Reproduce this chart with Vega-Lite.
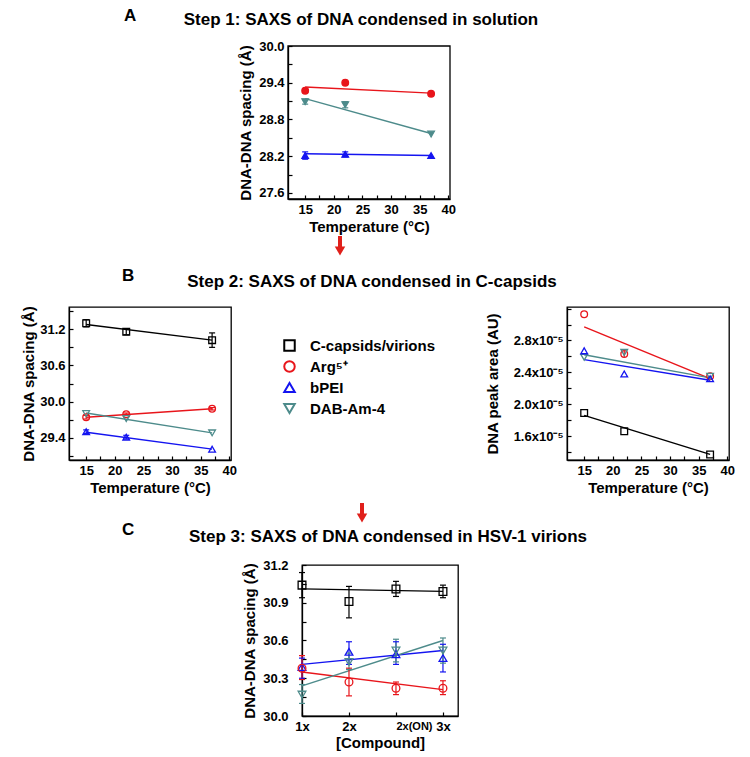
{
  "$schema": "https://vega.github.io/schema/vega-lite/v6.json",
  "background": "white",
  "padding": 0,
  "columns": 7,
  "spacing": 0,
  "bounds": "flush",
  "datasets": {
    "pts": [
      {"panel": "A", "series": "Arg5+", "T": 15, "y": 29.27, "lo": 29.24, "hi": 29.30},
      {"panel": "A", "series": "Arg5+", "T": 22, "y": 29.40},
      {"panel": "A", "series": "Arg5+", "T": 37, "y": 29.22},
      {"panel": "A", "series": "DAB-Am-4", "T": 15, "y": 29.09, "lo": 29.05, "hi": 29.13},
      {"panel": "A", "series": "DAB-Am-4", "T": 22, "y": 29.04, "lo": 28.99, "hi": 29.09},
      {"panel": "A", "series": "DAB-Am-4", "T": 37, "y": 28.56},
      {"panel": "A", "series": "bPEI", "T": 15, "y": 28.21, "lo": 28.15, "hi": 28.27},
      {"panel": "A", "series": "bPEI", "T": 22, "y": 28.23, "lo": 28.19, "hi": 28.27},
      {"panel": "A", "series": "bPEI", "T": 37, "y": 28.21},
      {"panel": "BL", "series": "C-capsids/virions", "T": 15, "y": 31.30, "lo": 31.24, "hi": 31.36},
      {"panel": "BL", "series": "C-capsids/virions", "T": 22, "y": 31.16, "lo": 31.11, "hi": 31.21},
      {"panel": "BL", "series": "C-capsids/virions", "T": 37, "y": 31.02, "lo": 30.90, "hi": 31.14},
      {"panel": "BL", "series": "Arg5+", "T": 15, "y": 29.74, "lo": 29.71, "hi": 29.77},
      {"panel": "BL", "series": "Arg5+", "T": 22, "y": 29.79, "lo": 29.77, "hi": 29.81},
      {"panel": "BL", "series": "Arg5+", "T": 37, "y": 29.88, "lo": 29.86, "hi": 29.90},
      {"panel": "BL", "series": "DAB-Am-4", "T": 15, "y": 29.80},
      {"panel": "BL", "series": "DAB-Am-4", "T": 22, "y": 29.72},
      {"panel": "BL", "series": "DAB-Am-4", "T": 37, "y": 29.48},
      {"panel": "BL", "series": "bPEI", "T": 15, "y": 29.50, "lo": 29.47, "hi": 29.53},
      {"panel": "BL", "series": "bPEI", "T": 22, "y": 29.41, "lo": 29.38, "hi": 29.44},
      {"panel": "BL", "series": "bPEI", "T": 37, "y": 29.21},
      {"panel": "BR", "series": "Arg5+", "T": 15, "y": 3.13e-5},
      {"panel": "BR", "series": "Arg5+", "T": 22, "y": 2.63e-5, "lo": 2.59e-5, "hi": 2.67e-5},
      {"panel": "BR", "series": "Arg5+", "T": 37, "y": 2.35e-5},
      {"panel": "BR", "series": "DAB-Am-4", "T": 15, "y": 2.59e-5},
      {"panel": "BR", "series": "DAB-Am-4", "T": 22, "y": 2.65e-5},
      {"panel": "BR", "series": "DAB-Am-4", "T": 37, "y": 2.35e-5},
      {"panel": "BR", "series": "bPEI", "T": 15, "y": 2.67e-5},
      {"panel": "BR", "series": "bPEI", "T": 22, "y": 2.38e-5},
      {"panel": "BR", "series": "bPEI", "T": 37, "y": 2.32e-5},
      {"panel": "BR", "series": "C-capsids/virions", "T": 15, "y": 1.89e-5},
      {"panel": "BR", "series": "C-capsids/virions", "T": 22, "y": 1.66e-5},
      {"panel": "BR", "series": "C-capsids/virions", "T": 37, "y": 1.37e-5},
      {"panel": "C", "series": "C-capsids/virions", "compound": "1x", "y": 31.04, "lo": 30.94, "hi": 31.14},
      {"panel": "C", "series": "C-capsids/virions", "compound": "2x", "y": 30.91, "lo": 30.78, "hi": 31.03},
      {"panel": "C", "series": "C-capsids/virions", "compound": "2x(ON)", "y": 31.01, "lo": 30.95, "hi": 31.07},
      {"panel": "C", "series": "C-capsids/virions", "compound": "3x", "y": 30.99, "lo": 30.94, "hi": 31.04},
      {"panel": "C", "series": "bPEI", "compound": "1x", "y": 30.39, "lo": 30.30, "hi": 30.46},
      {"panel": "C", "series": "bPEI", "compound": "2x", "y": 30.51, "lo": 30.41, "hi": 30.59},
      {"panel": "C", "series": "bPEI", "compound": "2x(ON)", "y": 30.49, "lo": 30.41, "hi": 30.59},
      {"panel": "C", "series": "bPEI", "compound": "3x", "y": 30.46, "lo": 30.35, "hi": 30.57},
      {"panel": "C", "series": "Arg5+", "compound": "1x", "y": 30.38, "lo": 30.29, "hi": 30.48},
      {"panel": "C", "series": "Arg5+", "compound": "2x", "y": 30.27, "lo": 30.16, "hi": 30.38},
      {"panel": "C", "series": "Arg5+", "compound": "2x(ON)", "y": 30.22, "lo": 30.17, "hi": 30.27},
      {"panel": "C", "series": "Arg5+", "compound": "3x", "y": 30.22, "lo": 30.17, "hi": 30.28},
      {"panel": "C", "series": "DAB-Am-4", "compound": "1x", "y": 30.17, "lo": 30.10, "hi": 30.25},
      {"panel": "C", "series": "DAB-Am-4", "compound": "2x", "y": 30.43, "lo": 30.37, "hi": 30.50},
      {"panel": "C", "series": "DAB-Am-4", "compound": "2x(ON)", "y": 30.52, "lo": 30.43, "hi": 30.61},
      {"panel": "C", "series": "DAB-Am-4", "compound": "3x", "y": 30.52, "lo": 30.42, "hi": 30.62}
    ],
    "fits": [
      {"panel": "A", "series": "Arg5+", "T": 15, "y": 29.33},
      {"panel": "A", "series": "Arg5+", "T": 37, "y": 29.23},
      {"panel": "A", "series": "DAB-Am-4", "T": 15, "y": 29.14},
      {"panel": "A", "series": "DAB-Am-4", "T": 37, "y": 28.57},
      {"panel": "A", "series": "bPEI", "T": 15, "y": 28.24},
      {"panel": "A", "series": "bPEI", "T": 37, "y": 28.21},
      {"panel": "BL", "series": "C-capsids/virions", "T": 15, "y": 31.28},
      {"panel": "BL", "series": "C-capsids/virions", "T": 37, "y": 31.02},
      {"panel": "BL", "series": "Arg5+", "T": 15, "y": 29.74},
      {"panel": "BL", "series": "Arg5+", "T": 37, "y": 29.88},
      {"panel": "BL", "series": "DAB-Am-4", "T": 15, "y": 29.81},
      {"panel": "BL", "series": "DAB-Am-4", "T": 37, "y": 29.48},
      {"panel": "BL", "series": "bPEI", "T": 15, "y": 29.49},
      {"panel": "BL", "series": "bPEI", "T": 37, "y": 29.21},
      {"panel": "BR", "series": "Arg5+", "T": 15, "y": 2.97e-5},
      {"panel": "BR", "series": "Arg5+", "T": 37, "y": 2.32e-5},
      {"panel": "BR", "series": "DAB-Am-4", "T": 15, "y": 2.62e-5},
      {"panel": "BR", "series": "DAB-Am-4", "T": 37, "y": 2.33e-5},
      {"panel": "BR", "series": "bPEI", "T": 15, "y": 2.56e-5},
      {"panel": "BR", "series": "bPEI", "T": 37, "y": 2.30e-5},
      {"panel": "BR", "series": "C-capsids/virions", "T": 15, "y": 1.86e-5},
      {"panel": "BR", "series": "C-capsids/virions", "T": 37, "y": 1.37e-5},
      {"panel": "C", "series": "C-capsids/virions", "compound": "1x", "y": 31.01},
      {"panel": "C", "series": "C-capsids/virions", "compound": "3x", "y": 30.99},
      {"panel": "C", "series": "bPEI", "compound": "1x", "y": 30.41},
      {"panel": "C", "series": "bPEI", "compound": "3x", "y": 30.52},
      {"panel": "C", "series": "Arg5+", "compound": "1x", "y": 30.35},
      {"panel": "C", "series": "Arg5+", "compound": "3x", "y": 30.21},
      {"panel": "C", "series": "DAB-Am-4", "compound": "1x", "y": 30.24},
      {"panel": "C", "series": "DAB-Am-4", "compound": "3x", "y": 30.60}
    ],
    "frameA": [
      {"T0": 12, "T1": 40.3, "y0": 27.5, "y1": 30.0}
    ],
    "arrows": [
      {"which": 1, "pos": 38, "top": 37, "shaftEnd": 50, "head": 52},
      {"which": 2, "pos": 60, "top": 43, "shaftEnd": 56, "head": 58}
    ]
  },
  "config": {
    "view": {"stroke": null},
    "font": "Liberation Sans",
    "title": {"font": "Liberation Sans", "fontSize": 17, "fontWeight": "bold", "color": "black"},
    "axis": {"domainColor": "black", "domainWidth": 1.3, "tickColor": "black", "tickWidth": 1.2, "tickSize": -4, "tickCount": 40, "labelPadding": 8, "labelFont": "Liberation Sans", "labelFontSize": 13, "labelFontWeight": "bold", "labelColor": "black", "titleFont": "Liberation Sans", "titleFontSize": 15, "titleFontWeight": "bold", "titleColor": "black", "grid": false, "labelFlush": false, "labelOverlap": false, "labelBound": false}
  },
  "concat": [
    {"width": 1, "height": 46, "data": {"values": []}, "mark": "point"},
    {"width": 1, "height": 1, "data": {"values": []}, "mark": "point"},
    {"width": 1, "height": 1, "data": {"values": []}, "mark": "point"},
    {"width": 1, "height": 1, "data": {"values": []}, "mark": "point"},
    {"width": 1, "height": 1, "data": {"values": []}, "mark": "point"},
    {"width": 1, "height": 1, "data": {"values": []}, "mark": "point"},
    {"width": 1, "height": 1, "data": {"values": []}, "mark": "point"},

    {"width": 69, "height": 153, "data": {"values": []}, "mark": "point",
     "title": {"text": "A", "anchor": "start", "frame": "group", "dx": 124, "offset": 21}},
    {"width": 1, "height": 1, "data": {"values": []}, "mark": "point"},
    {"width": 1, "height": 1, "data": {"values": []}, "mark": "point"},
    {
      "width": 14, "height": 153,
      "title": {"text": "Step 1: SAXS of DNA condensed in solution", "anchor": "middle", "frame": "group", "dx": 66, "offset": 11},
      "layer": [
        {"data": {"name": "frameA"},
         "mark": {"type": "rect", "fill": "transparent", "stroke": "black", "strokeWidth": 1.3},
         "encoding": {
           "x": {"field": "T0", "type": "quantitative", "scale": {"domain": [12, 40.3], "range": [0, 162], "nice": false, "zero": false},
                 "axis": {"title": "Temperature (°C)", "values": [15, 17.5, 20, 22.5, 25, 27.5, 30, 32.5, 35, 37.5, 40], "tickCount": 40, "labelExpr": "datum.value % 5 == 0 ? format(datum.value, 'd') : ''", "labelOverlap": false, "titlePadding": 3}},
           "x2": {"field": "T1"},
           "y": {"field": "y0", "type": "quantitative", "scale": {"domain": [27.5, 30.0], "nice": false, "zero": false},
                 "axis": {"title": "DNA-DNA spacing (Å)", "values": [27.6, 27.9, 28.2, 28.5, 28.8, 29.1, 29.4, 29.7, 30.0], "tickCount": 40, "labelExpr": "indexof(['27.6','28.2','28.8','29.4','30.0'], format(datum.value,'.1f')) >= 0 ? format(datum.value,'.1f') : ''", "labelOverlap": false, "titlePadding": 5}},
           "y2": {"field": "y1"}
         }},
        {"data": {"name": "fits"}, "transform": [{"filter": "datum.panel == 'A'"}],
         "mark": {"type": "line", "strokeWidth": 1.4},
         "encoding": {
           "x": {"field": "T", "type": "quantitative"},
           "y": {"field": "y", "type": "quantitative"},
           "color": {"field": "series", "type": "nominal", "scale": {"domain": ["C-capsids/virions", "Arg5+", "bPEI", "DAB-Am-4"], "range": ["#000000", "#e8151b", "#1414f0", "#4d8b8b"]},
                     "legend": {"orient": "none", "legendX": 282, "legendY": 338, "title": null, "symbolSize": 110, "symbolStrokeWidth": 2, "symbolFillColor": "transparent", "labelFont": "Liberation Sans", "labelFontSize": 15, "labelFontWeight": "bold", "labelColor": "black", "labelOffset": 13, "rowPadding": 2, "padding": 0, "labelExpr": "datum.label == 'Arg5+' ? 'Arg⁵⁺' : datum.label"}}
         }},
        {"data": {"name": "pts"}, "transform": [{"filter": "datum.panel == 'A' && isValid(datum.lo)"}],
         "mark": {"type": "rule", "strokeWidth": 1.2},
         "encoding": {
           "x": {"field": "T", "type": "quantitative"},
           "y": {"field": "lo", "type": "quantitative"},
           "y2": {"field": "hi"},
           "color": {"field": "series", "type": "nominal", "legend": {"orient": "none", "legendX": 282, "legendY": 338, "title": null, "symbolSize": 110, "symbolStrokeWidth": 2, "symbolFillColor": "transparent", "labelFont": "Liberation Sans", "labelFontSize": 15, "labelFontWeight": "bold", "labelColor": "black", "labelOffset": 13, "rowPadding": 2, "padding": 0, "labelExpr": "datum.label == 'Arg5+' ? 'Arg⁵⁺' : datum.label"}}
         }},
        {"data": {"name": "pts"}, "transform": [{"filter": "datum.panel == 'A' && isValid(datum.lo)"}, {"fold": ["lo", "hi"], "as": ["end", "val"]}],
         "mark": {"type": "rule", "strokeWidth": 1.2, "xOffset": -3, "x2Offset": 3},
         "encoding": {
           "x": {"field": "T", "type": "quantitative"},
           "x2": {"field": "T"},
           "y": {"field": "val", "type": "quantitative"},
           "color": {"field": "series", "type": "nominal", "legend": {"orient": "none", "legendX": 282, "legendY": 338, "title": null, "symbolSize": 110, "symbolStrokeWidth": 2, "symbolFillColor": "transparent", "labelFont": "Liberation Sans", "labelFontSize": 15, "labelFontWeight": "bold", "labelColor": "black", "labelOffset": 13, "rowPadding": 2, "padding": 0, "labelExpr": "datum.label == 'Arg5+' ? 'Arg⁵⁺' : datum.label"}}
         }},
        {"data": {"name": "pts"}, "transform": [{"filter": "datum.panel == 'A'"}],
         "mark": {"type": "point", "filled": false, "size": 45, "strokeWidth": 1.2, "opacity": 1},
         "encoding": {
           "x": {"field": "T", "type": "quantitative"},
           "y": {"field": "y", "type": "quantitative"},
           "color": {"field": "series", "type": "nominal", "legend": {"orient": "none", "legendX": 282, "legendY": 338, "title": null, "symbolSize": 110, "symbolStrokeWidth": 2, "symbolFillColor": "transparent", "labelFont": "Liberation Sans", "labelFontSize": 15, "labelFontWeight": "bold", "labelColor": "black", "labelOffset": 13, "rowPadding": 2, "padding": 0, "labelExpr": "datum.label == 'Arg5+' ? 'Arg⁵⁺' : datum.label"}},
           "shape": {"field": "series", "type": "nominal", "scale": {"domain": ["C-capsids/virions", "Arg5+", "bPEI", "DAB-Am-4"], "range": ["square", "circle", "triangle-up", "triangle-down"]}, "legend": {"orient": "none", "legendX": 282, "legendY": 338, "title": null, "symbolSize": 110, "symbolStrokeWidth": 2, "symbolFillColor": "transparent", "labelFont": "Liberation Sans", "labelFontSize": 15, "labelFontWeight": "bold", "labelColor": "black", "labelOffset": 13, "rowPadding": 2, "padding": 0, "labelExpr": "datum.label == 'Arg5+' ? 'Arg⁵⁺' : datum.label"}},
           "fill": {"field": "series", "type": "nominal", "scale": {"domain": ["Arg5+", "bPEI", "DAB-Am-4"], "range": ["#e8151b", "#1414f0", "#4d8b8b"]}, "legend": null}
         }}
      ]
    },
    {"width": 1, "height": 1, "data": {"values": []}, "mark": "point"},
    {"width": 1, "height": 1, "data": {"values": []}, "mark": "point"},
    {"width": 1, "height": 1, "data": {"values": []}, "mark": "point"},

    {"width": 1, "height": 108, "data": {"values": []}, "mark": "point"},
    {"width": 1, "height": 1, "data": {"values": []}, "mark": "point"},
    {"width": 1, "height": 1, "data": {"values": []}, "mark": "point"},
    {"width": 1, "height": 1, "data": {"values": []}, "mark": "point"},
    {
      "width": 64, "height": 108,
      "data": {"name": "arrows"},
      "transform": [{"filter": "datum.which == 1"}],
      "layer": [
        {"mark": {"type": "rule", "color": "#e0201b", "strokeWidth": 4, "strokeCap": "butt"},
         "encoding": {
           "x": {"field": "pos", "type": "quantitative", "scale": {"domain": [0, 64], "nice": false, "zero": false}, "axis": null},
           "y": {"field": "top", "type": "quantitative", "scale": {"domain": [0, 108], "reverse": true, "nice": false, "zero": false}, "axis": null},
           "y2": {"field": "shaftEnd"}
         }},
        {"mark": {"type": "point", "shape": "triangle-down", "filled": true, "color": "#e0201b", "size": 110, "opacity": 1},
         "encoding": {
           "x": {"field": "pos", "type": "quantitative"},
           "y": {"field": "head", "type": "quantitative"}
         }}
      ]
    },
    {"width": 1, "height": 1, "data": {"values": []}, "mark": "point"},
    {"width": 1, "height": 1, "data": {"values": []}, "mark": "point"},

    {"width": 69, "height": 153, "data": {"values": []}, "mark": "point",
     "title": {"text": "B", "anchor": "start", "frame": "group", "dx": 122, "offset": 22}},
    {
      "width": 162, "height": 153,
      "view": {"stroke": "black", "strokeWidth": 1.3},
      "layer": [
        {"data": {"name": "fits"}, "transform": [{"filter": "datum.panel == 'BL'"}],
         "mark": {"type": "line", "strokeWidth": 1.4},
         "encoding": {
           "x": {"field": "T", "type": "quantitative", "scale": {"domain": [12, 40.3], "nice": false, "zero": false},
                 "axis": {"title": "Temperature (°C)", "values": [15, 17.5, 20, 22.5, 25, 27.5, 30, 32.5, 35, 37.5, 40], "tickCount": 40, "labelExpr": "datum.value % 5 == 0 ? format(datum.value, 'd') : ''", "labelOverlap": false, "titlePadding": 3}},
           "y": {"field": "y", "type": "quantitative", "scale": {"domain": [29.03, 31.57], "nice": false, "zero": false},
                 "axis": {"title": "DNA-DNA spacing (Å)", "values": [29.1, 29.4, 29.7, 30.0, 30.3, 30.6, 30.9, 31.2, 31.5], "tickCount": 40, "labelExpr": "indexof(['29.4','30.0','30.6','31.2'], format(datum.value,'.1f')) >= 0 ? format(datum.value,'.1f') : ''", "labelOverlap": false, "titlePadding": 3}},
           "color": {"field": "series", "type": "nominal", "legend": {"orient": "none", "legendX": 282, "legendY": 338, "title": null, "symbolSize": 110, "symbolStrokeWidth": 2, "symbolFillColor": "transparent", "labelFont": "Liberation Sans", "labelFontSize": 15, "labelFontWeight": "bold", "labelColor": "black", "labelOffset": 13, "rowPadding": 2, "padding": 0, "labelExpr": "datum.label == 'Arg5+' ? 'Arg⁵⁺' : datum.label"}}
         }},
        {"data": {"name": "pts"}, "transform": [{"filter": "datum.panel == 'BL' && isValid(datum.lo)"}],
         "mark": {"type": "rule", "strokeWidth": 1.2},
         "encoding": {
           "x": {"field": "T", "type": "quantitative"},
           "y": {"field": "lo", "type": "quantitative"},
           "y2": {"field": "hi"},
           "color": {"field": "series", "type": "nominal", "legend": {"orient": "none", "legendX": 282, "legendY": 338, "title": null, "symbolSize": 110, "symbolStrokeWidth": 2, "symbolFillColor": "transparent", "labelFont": "Liberation Sans", "labelFontSize": 15, "labelFontWeight": "bold", "labelColor": "black", "labelOffset": 13, "rowPadding": 2, "padding": 0, "labelExpr": "datum.label == 'Arg5+' ? 'Arg⁵⁺' : datum.label"}}
         }},
        {"data": {"name": "pts"}, "transform": [{"filter": "datum.panel == 'BL' && isValid(datum.lo)"}, {"fold": ["lo", "hi"], "as": ["end", "val"]}],
         "mark": {"type": "rule", "strokeWidth": 1.2, "xOffset": -3, "x2Offset": 3},
         "encoding": {
           "x": {"field": "T", "type": "quantitative"},
           "x2": {"field": "T"},
           "y": {"field": "val", "type": "quantitative"},
           "color": {"field": "series", "type": "nominal", "legend": {"orient": "none", "legendX": 282, "legendY": 338, "title": null, "symbolSize": 110, "symbolStrokeWidth": 2, "symbolFillColor": "transparent", "labelFont": "Liberation Sans", "labelFontSize": 15, "labelFontWeight": "bold", "labelColor": "black", "labelOffset": 13, "rowPadding": 2, "padding": 0, "labelExpr": "datum.label == 'Arg5+' ? 'Arg⁵⁺' : datum.label"}}
         }},
        {"data": {"name": "pts"}, "transform": [{"filter": "datum.panel == 'BL'"}],
         "mark": {"type": "point", "filled": false, "size": 45, "strokeWidth": 1.3, "opacity": 1},
         "encoding": {
           "x": {"field": "T", "type": "quantitative"},
           "y": {"field": "y", "type": "quantitative"},
           "color": {"field": "series", "type": "nominal", "legend": {"orient": "none", "legendX": 282, "legendY": 338, "title": null, "symbolSize": 110, "symbolStrokeWidth": 2, "symbolFillColor": "transparent", "labelFont": "Liberation Sans", "labelFontSize": 15, "labelFontWeight": "bold", "labelColor": "black", "labelOffset": 13, "rowPadding": 2, "padding": 0, "labelExpr": "datum.label == 'Arg5+' ? 'Arg⁵⁺' : datum.label"}},
           "shape": {"field": "series", "type": "nominal", "legend": {"orient": "none", "legendX": 282, "legendY": 338, "title": null, "symbolSize": 110, "symbolStrokeWidth": 2, "symbolFillColor": "transparent", "labelFont": "Liberation Sans", "labelFontSize": 15, "labelFontWeight": "bold", "labelColor": "black", "labelOffset": 13, "rowPadding": 2, "padding": 0, "labelExpr": "datum.label == 'Arg5+' ? 'Arg⁵⁺' : datum.label"}}
         }}
      ]
    },
    {"width": 57, "height": 1, "data": {"values": []}, "mark": "point"},
    {"width": 14, "height": 1, "data": {"values": []}, "mark": "point"},
    {"width": 156, "height": 153, "data": {"values": []}, "mark": "point",
     "title": {"text": "Step 2: SAXS of DNA condensed in C-capsids", "anchor": "middle", "frame": "group", "dx": -8, "offset": 16}},
    {"width": 109, "height": 1, "data": {"values": []}, "mark": "point"},
    {
      "width": 162, "height": 153,
      "view": {"stroke": "black", "strokeWidth": 1.3},
      "layer": [
        {"data": {"name": "fits"}, "transform": [{"filter": "datum.panel == 'BR'"}],
         "mark": {"type": "line", "strokeWidth": 1.4},
         "encoding": {
           "x": {"field": "T", "type": "quantitative", "scale": {"domain": [12, 40.3], "nice": false, "zero": false},
                 "axis": {"title": "Temperature (°C)", "values": [15, 17.5, 20, 22.5, 25, 27.5, 30, 32.5, 35, 37.5, 40], "tickCount": 40, "labelExpr": "datum.value % 5 == 0 ? format(datum.value, 'd') : ''", "labelOverlap": false, "titlePadding": 3}},
           "y": {"field": "y", "type": "quantitative", "scale": {"domain": [1.3e-5, 3.22e-5], "nice": false, "zero": false},
                 "axis": {"title": "DNA peak area (AU)", "values": [1.4e-5, 1.6e-5, 1.8e-5, 2.0e-5, 2.2e-5, 2.4e-5, 2.6e-5, 2.8e-5, 3.0e-5, 3.2e-5], "tickCount": 40, "labelExpr": "indexof(['1.6','2.0','2.4','2.8'], format(datum.value*100000,'.1f')) >= 0 ? format(datum.value*100000,'.1f') + 'x10⁻⁵' : ''", "labelOverlap": false, "titlePadding": 13}},
           "color": {"field": "series", "type": "nominal", "legend": {"orient": "none", "legendX": 282, "legendY": 338, "title": null, "symbolSize": 110, "symbolStrokeWidth": 2, "symbolFillColor": "transparent", "labelFont": "Liberation Sans", "labelFontSize": 15, "labelFontWeight": "bold", "labelColor": "black", "labelOffset": 13, "rowPadding": 2, "padding": 0, "labelExpr": "datum.label == 'Arg5+' ? 'Arg⁵⁺' : datum.label"}}
         }},
        {"data": {"name": "pts"}, "transform": [{"filter": "datum.panel == 'BR' && isValid(datum.lo)"}],
         "mark": {"type": "rule", "strokeWidth": 1.2},
         "encoding": {
           "x": {"field": "T", "type": "quantitative"},
           "y": {"field": "lo", "type": "quantitative"},
           "y2": {"field": "hi"},
           "color": {"field": "series", "type": "nominal", "legend": {"orient": "none", "legendX": 282, "legendY": 338, "title": null, "symbolSize": 110, "symbolStrokeWidth": 2, "symbolFillColor": "transparent", "labelFont": "Liberation Sans", "labelFontSize": 15, "labelFontWeight": "bold", "labelColor": "black", "labelOffset": 13, "rowPadding": 2, "padding": 0, "labelExpr": "datum.label == 'Arg5+' ? 'Arg⁵⁺' : datum.label"}}
         }},
        {"data": {"name": "pts"}, "transform": [{"filter": "datum.panel == 'BR'"}],
         "mark": {"type": "point", "filled": false, "size": 45, "strokeWidth": 1.3, "opacity": 1},
         "encoding": {
           "x": {"field": "T", "type": "quantitative"},
           "y": {"field": "y", "type": "quantitative"},
           "color": {"field": "series", "type": "nominal", "legend": {"orient": "none", "legendX": 282, "legendY": 338, "title": null, "symbolSize": 110, "symbolStrokeWidth": 2, "symbolFillColor": "transparent", "labelFont": "Liberation Sans", "labelFontSize": 15, "labelFontWeight": "bold", "labelColor": "black", "labelOffset": 13, "rowPadding": 2, "padding": 0, "labelExpr": "datum.label == 'Arg5+' ? 'Arg⁵⁺' : datum.label"}},
           "shape": {"field": "series", "type": "nominal", "legend": {"orient": "none", "legendX": 282, "legendY": 338, "title": null, "symbolSize": 110, "symbolStrokeWidth": 2, "symbolFillColor": "transparent", "labelFont": "Liberation Sans", "labelFontSize": 15, "labelFontWeight": "bold", "labelColor": "black", "labelOffset": 13, "rowPadding": 2, "padding": 0, "labelExpr": "datum.label == 'Arg5+' ? 'Arg⁵⁺' : datum.label"}}
         }}
      ]
    },

    {"width": 1, "height": 105, "data": {"values": []}, "mark": "point"},
    {"width": 1, "height": 1, "data": {"values": []}, "mark": "point"},
    {"width": 1, "height": 1, "data": {"values": []}, "mark": "point"},
    {"width": 1, "height": 1, "data": {"values": []}, "mark": "point"},
    {
      "width": 64, "height": 105,
      "data": {"name": "arrows"},
      "transform": [{"filter": "datum.which == 2"}],
      "layer": [
        {"mark": {"type": "rule", "color": "#e0201b", "strokeWidth": 4, "strokeCap": "butt"},
         "encoding": {
           "x": {"field": "pos", "type": "quantitative", "scale": {"domain": [0, 64], "nice": false, "zero": false}, "axis": null},
           "y": {"field": "top", "type": "quantitative", "scale": {"domain": [0, 105], "reverse": true, "nice": false, "zero": false}, "axis": null},
           "y2": {"field": "shaftEnd"}
         }},
        {"mark": {"type": "point", "shape": "triangle-down", "filled": true, "color": "#e0201b", "size": 110, "opacity": 1},
         "encoding": {
           "x": {"field": "pos", "type": "quantitative"},
           "y": {"field": "head", "type": "quantitative"}
         }}
      ]
    },
    {"width": 1, "height": 1, "data": {"values": []}, "mark": "point"},
    {"width": 1, "height": 1, "data": {"values": []}, "mark": "point"},

    {"width": 69, "height": 151, "data": {"values": []}, "mark": "point",
     "title": {"text": "C", "anchor": "start", "frame": "group", "dx": 122, "offset": 26}},
    {"width": 1, "height": 1, "data": {"values": []}, "mark": "point"},
    {"width": 1, "height": 1, "data": {"values": []}, "mark": "point"},
    {"width": 1, "height": 1, "data": {"values": []}, "mark": "point"},
    {
      "width": 156, "height": 151,
      "view": {"stroke": "black", "strokeWidth": 1.3},
      "title": {"text": "Step 3: SAXS of DNA condensed in HSV-1 virions", "anchor": "middle", "frame": "group", "dx": 8, "offset": 13},
      "layer": [
        {"data": {"name": "fits"}, "transform": [{"filter": "datum.panel == 'C'"}],
         "mark": {"type": "line", "strokeWidth": 1.4},
         "encoding": {
           "x": {"field": "compound", "type": "nominal", "scale": {"type": "point", "domain": ["1x", "2x", "2x(ON)", "3x"], "padding": 0.16, "align": 0},
                 "axis": {"title": "[Compound]", "labelAngle": 0, "labelOverlap": false, "labelAlign": {"condition": {"test": "datum.value == '2x(ON)'", "value": "left"}, "value": "center"}, "labelFontSize": {"condition": {"test": "datum.value == '2x(ON)'", "value": 11}, "value": 13}, "titlePadding": 2}},
           "y": {"field": "y", "type": "quantitative", "scale": {"domain": [30.0, 31.2], "nice": false, "zero": false},
                 "axis": {"title": "DNA-DNA spacing (Å)", "values": [30.0, 30.15, 30.3, 30.45, 30.6, 30.75, 30.9, 31.05, 31.2], "tickCount": 40, "labelExpr": "indexof(['30.0','30.3','30.6','30.9','31.2'], format(datum.value,'.1f')) >= 0 ? format(datum.value,'.1f') : ''", "labelOverlap": false, "labelPadding": 18, "titlePadding": 5}},
           "color": {"field": "series", "type": "nominal", "legend": {"orient": "none", "legendX": 282, "legendY": 338, "title": null, "symbolSize": 110, "symbolStrokeWidth": 2, "symbolFillColor": "transparent", "labelFont": "Liberation Sans", "labelFontSize": 15, "labelFontWeight": "bold", "labelColor": "black", "labelOffset": 13, "rowPadding": 2, "padding": 0, "labelExpr": "datum.label == 'Arg5+' ? 'Arg⁵⁺' : datum.label"}}
         }},
        {"data": {"name": "pts"}, "transform": [{"filter": "datum.panel == 'C'"}],
         "mark": {"type": "rule", "strokeWidth": 1.2},
         "encoding": {
           "x": {"field": "compound", "type": "nominal"},
           "y": {"field": "lo", "type": "quantitative"},
           "y2": {"field": "hi"},
           "color": {"field": "series", "type": "nominal", "legend": {"orient": "none", "legendX": 282, "legendY": 338, "title": null, "symbolSize": 110, "symbolStrokeWidth": 2, "symbolFillColor": "transparent", "labelFont": "Liberation Sans", "labelFontSize": 15, "labelFontWeight": "bold", "labelColor": "black", "labelOffset": 13, "rowPadding": 2, "padding": 0, "labelExpr": "datum.label == 'Arg5+' ? 'Arg⁵⁺' : datum.label"}}
         }},
        {"data": {"name": "pts"}, "transform": [{"filter": "datum.panel == 'C'"}, {"fold": ["lo", "hi"], "as": ["end", "val"]}],
         "mark": {"type": "rule", "strokeWidth": 1.2, "xOffset": -3, "x2Offset": 3},
         "encoding": {
           "x": {"field": "compound", "type": "nominal"},
           "x2": {"field": "compound"},
           "y": {"field": "val", "type": "quantitative"},
           "color": {"field": "series", "type": "nominal", "legend": {"orient": "none", "legendX": 282, "legendY": 338, "title": null, "symbolSize": 110, "symbolStrokeWidth": 2, "symbolFillColor": "transparent", "labelFont": "Liberation Sans", "labelFontSize": 15, "labelFontWeight": "bold", "labelColor": "black", "labelOffset": 13, "rowPadding": 2, "padding": 0, "labelExpr": "datum.label == 'Arg5+' ? 'Arg⁵⁺' : datum.label"}}
         }},
        {"data": {"name": "pts"}, "transform": [{"filter": "datum.panel == 'C'"}],
         "mark": {"type": "point", "filled": false, "size": 60, "strokeWidth": 1.3, "opacity": 1},
         "encoding": {
           "x": {"field": "compound", "type": "nominal"},
           "y": {"field": "y", "type": "quantitative"},
           "color": {"field": "series", "type": "nominal", "legend": {"orient": "none", "legendX": 282, "legendY": 338, "title": null, "symbolSize": 110, "symbolStrokeWidth": 2, "symbolFillColor": "transparent", "labelFont": "Liberation Sans", "labelFontSize": 15, "labelFontWeight": "bold", "labelColor": "black", "labelOffset": 13, "rowPadding": 2, "padding": 0, "labelExpr": "datum.label == 'Arg5+' ? 'Arg⁵⁺' : datum.label"}},
           "shape": {"field": "series", "type": "nominal", "legend": {"orient": "none", "legendX": 282, "legendY": 338, "title": null, "symbolSize": 110, "symbolStrokeWidth": 2, "symbolFillColor": "transparent", "labelFont": "Liberation Sans", "labelFontSize": 15, "labelFontWeight": "bold", "labelColor": "black", "labelOffset": 13, "rowPadding": 2, "padding": 0, "labelExpr": "datum.label == 'Arg5+' ? 'Arg⁵⁺' : datum.label"}}
         }}
      ]
    },
    {"width": 1, "height": 1, "data": {"values": []}, "mark": "point"},
    {"width": 1, "height": 1, "data": {"values": []}, "mark": "point"}
  ]
}
